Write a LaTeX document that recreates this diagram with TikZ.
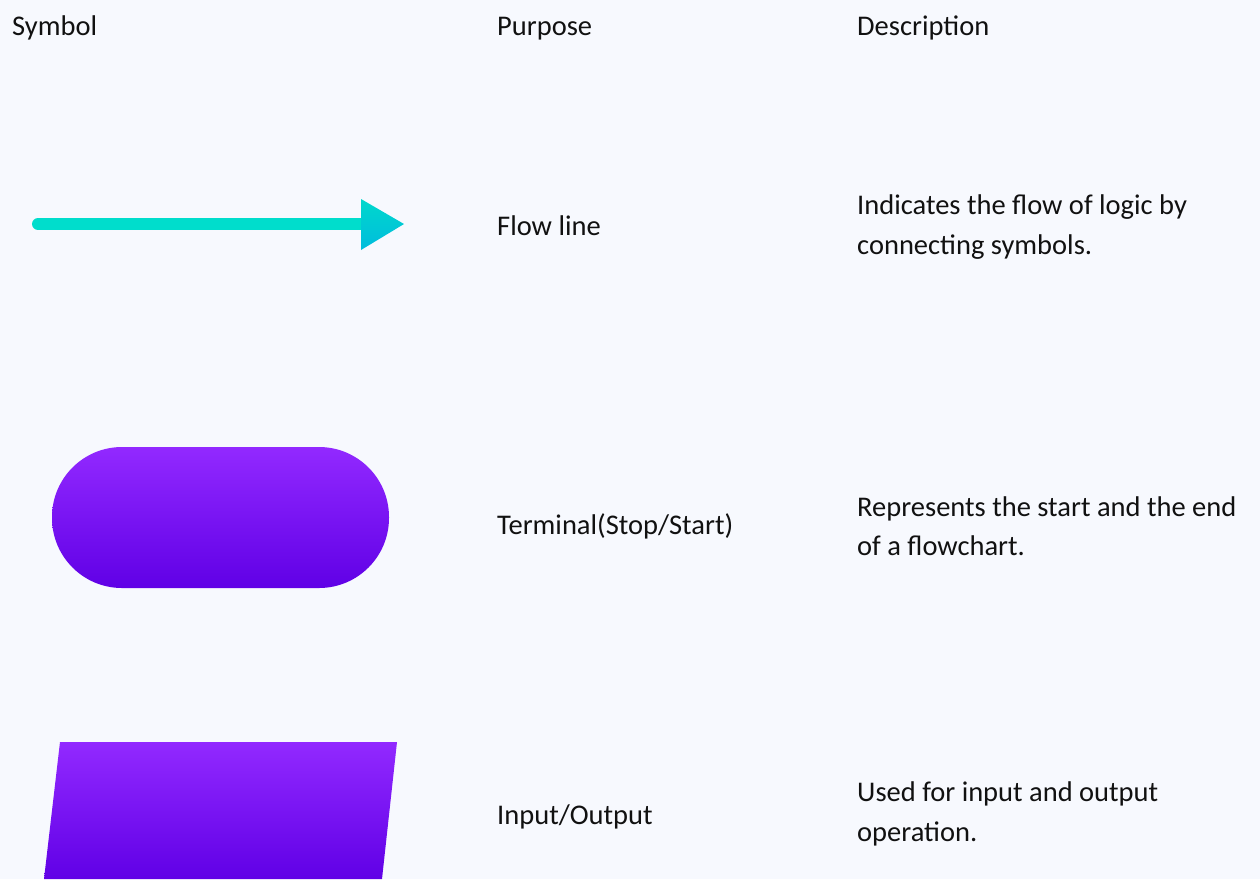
\documentclass[tikz,border=0pt]{standalone}
\usepackage{fontspec}
\setmainfont{Carlito}
\definecolor{pagebg}{HTML}{F7F9FE}
\definecolor{flowline}{HTML}{00DDCC}
\definecolor{flowheadtop}{HTML}{00D8CC}
\definecolor{flowheadbot}{HTML}{00BCDD}
\definecolor{symtop}{HTML}{9229FF}
\definecolor{symbot}{HTML}{6000E6}
\definecolor{ink}{HTML}{111111}
\begin{document}
\begin{tikzpicture}[x=1pt, y=-1pt, font=\fontsize{28.5pt}{40pt}\selectfont, line join=round, line cap=round,
	txt/.style={anchor=base west, inner sep=0pt, text=ink}]
	\fill[pagebg] (0,0) rectangle (1260,879);
	\useasboundingbox (0,0) rectangle (1260,879);
	% column heads
	\node[txt] (hsym) at (12,35) {Symbol};
	\node[txt] (hpur) at (497,35) {Purpose};
	\node[txt] (hdes) at (857,35) {Description};
	% flow line
	\coordinate (F1) at (38,224);
	\coordinate (F2) at (361,224);
	\coordinate (F3) at (404,224);
	\draw[flowline, line width=12pt] (F1)--(F2);
	\shade[top color=flowheadtop, bottom color=flowheadbot] (361,199)--(F3)--(361,250)--cycle;
	\node[txt] (pflow) at (497,235) {Flow line};
	\node[txt] (dflow1) at (857,214) {Indicates the flow of logic by};
	\node[txt] (dflow2) at (857,254) {connecting symbols.};
	% terminal
	\shade[top color=symtop, bottom color=symbot, rounded corners=70pt] (52,447) rectangle (389,588);
	\node[txt] (pterm) at (497,534) {Terminal(Stop/Start)};
	\node[txt] (dterm1) at (857,516) {Represents the start and the end};
	\node[txt] (dterm2) at (857,555) {of a flowchart.};
	% input/output
	\shade[top color=symtop, bottom color=symbot] (60,742)--(397,742)--(382,879)--(44,879)--cycle;
	\node[txt] (pio) at (497,824) {Input/Output};
	\node[txt] (dio1) at (857,801) {Used for input and output};
	\node[txt] (dio2) at (857,841) {operation.};
\end{tikzpicture}
\end{document}
